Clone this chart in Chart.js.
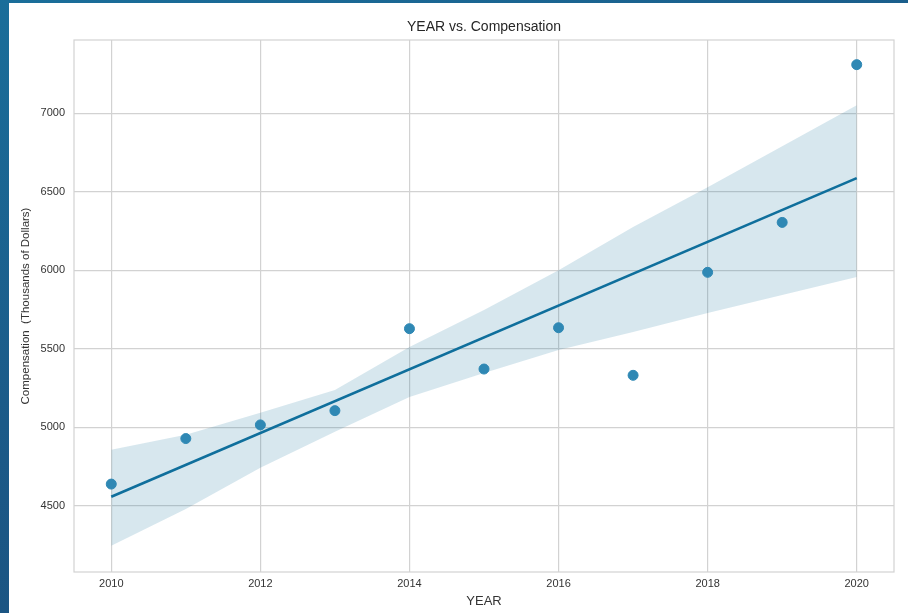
<!DOCTYPE html>
<html>
<head>
    <meta charset="UTF-8">
    <script src="https://cdn.jsdelivr.net/npm/chart.js@4.4.0/dist/chart.umd.min.js" type="text/javascript"></script>
    <title>YEAR vs. Compensation</title>
    <style>
        body { margin: 0; width: 908px; height: 613px; overflow: hidden;
               background: linear-gradient(160deg, #1a6e9a 0%, #1b5a88 45%, #1a4c7a 100%); }
        #wrap { position: absolute; left: 9px; top: 3px; width: 899px; height: 610px; background: #fff; }
    </style>
</head>
<body>
    <div id="wrap"><canvas id="myChart" width="899" height="610"></canvas></div>
    <script type="text/javascript">
        // scatter points
        const years = [2010, 2011, 2012, 2013, 2014, 2015, 2016, 2017, 2018, 2019, 2020];
        const compensation = [4638, 4928, 5015, 5106, 5628, 5371, 5634, 5331, 5987, 6305, 7310];
        // regression line endpoints and confidence band
        const fitYears = [2010, 2020];
        const fitValues = [4557, 6587];
        const bandUpper = [4856, 4952, 5092, 5238, 5511, 5747, 6001, 6275, 6529, 6790, 7051];
        const bandLower = [4246, 4480, 4742, 4971, 5193, 5346, 5492, 5607, 5728, 5842, 5957];
        const xTicks = [2010, 2012, 2014, 2016, 2018, 2020];
        const yTicks = [4500, 5000, 5500, 6000, 6500, 7000];

        const gridColor = '#d2d2d2';
        const font = 'Liberation Sans, Arial, sans-serif';

        const frame = {
            id: 'frame',
            beforeDatasetsDraw(chart) {
                const a = chart.chartArea, c = chart.ctx;
                c.save();
                c.strokeStyle = gridColor;
                c.lineWidth = 1.2;
                c.strokeRect(a.left, a.top, a.right - a.left, a.bottom - a.top);
                c.restore();
            }
        };

        const pts = (xs, ys) => xs.map((x, i) => ({x: x, y: ys[i]}));

        const ctx = document.getElementById('myChart').getContext('2d');
        const myChart = new Chart(ctx, {
            type: 'scatter',
            data: {
                datasets: [{
                    type: 'line',
                    label: 'band upper',
                    data: pts(years, bandUpper),
                    borderWidth: 0,
                    pointRadius: 0,
                    fill: '+1',
                    backgroundColor: 'rgba(17, 110, 155, 0.17)',
                    order: 3
                }, {
                    type: 'line',
                    label: 'band lower',
                    data: pts(years, bandLower),
                    borderWidth: 0,
                    pointRadius: 0,
                    fill: false,
                    order: 3
                }, {
                    label: 'Compensation',
                    data: pts(years, compensation),
                    backgroundColor: '#2f88b4',
                    borderColor: '#2f88b4',
                    pointRadius: 5,
                    order: 2
                }, {
                    type: 'line',
                    label: 'fit',
                    data: pts(fitYears, fitValues),
                    borderColor: '#0f6f9c',
                    borderWidth: 2.6,
                    pointRadius: 0,
                    fill: false,
                    order: 1
                }]
            },
            options: {
                responsive: false,
                animation: false,
                layout: { padding: { left: 0, right: 14, top: 0, bottom: 0 } },
                plugins: {
                    legend: { display: false },
                    tooltip: { enabled: false },
                    title: {
                        display: true,
                        text: 'YEAR vs. Compensation',
                        fullSize: false,
                        color: '#262626',
                        font: { family: font, size: 14, weight: 'normal' },
                        padding: { top: 15.6, bottom: 4.6 }
                    }
                },
                scales: {
                    x: {
                        type: 'linear',
                        min: 2009.5,
                        max: 2020.5,
                        afterBuildTicks: s => { s.ticks = xTicks.map(v => ({value: v})); },
                        afterFit: s => { s.height = 41; },
                        grid: { color: gridColor, lineWidth: 1.2, drawTicks: false },
                        border: { display: false },
                        ticks: { padding: 5, color: '#333', font: { family: font, size: 11 },
                                 callback: v => String(v) },
                        title: { display: true, text: 'YEAR', color: '#333',
                                 font: { family: font, size: 13 }, padding: { top: 0, bottom: 4 } }
                    },
                    y: {
                        min: 4078,
                        max: 7467,
                        afterBuildTicks: s => { s.ticks = yTicks.map(v => ({value: v})); },
                        afterFit: s => { s.width = 65; },
                        grid: { color: gridColor, lineWidth: 1.2, drawTicks: false },
                        border: { display: false },
                        ticks: { padding: 9, color: '#333', font: { family: font, size: 11 },
                                 callback: v => String(v) },
                        title: { display: true, text: 'Compensation  (Thousands of Dollars)', color: '#333',
                                 font: { family: font, size: 11.5 }, padding: { top: 10, bottom: 0 } }
                    }
                }
            },
            plugins: [frame]
        });
    </script>
</body>
</html>
